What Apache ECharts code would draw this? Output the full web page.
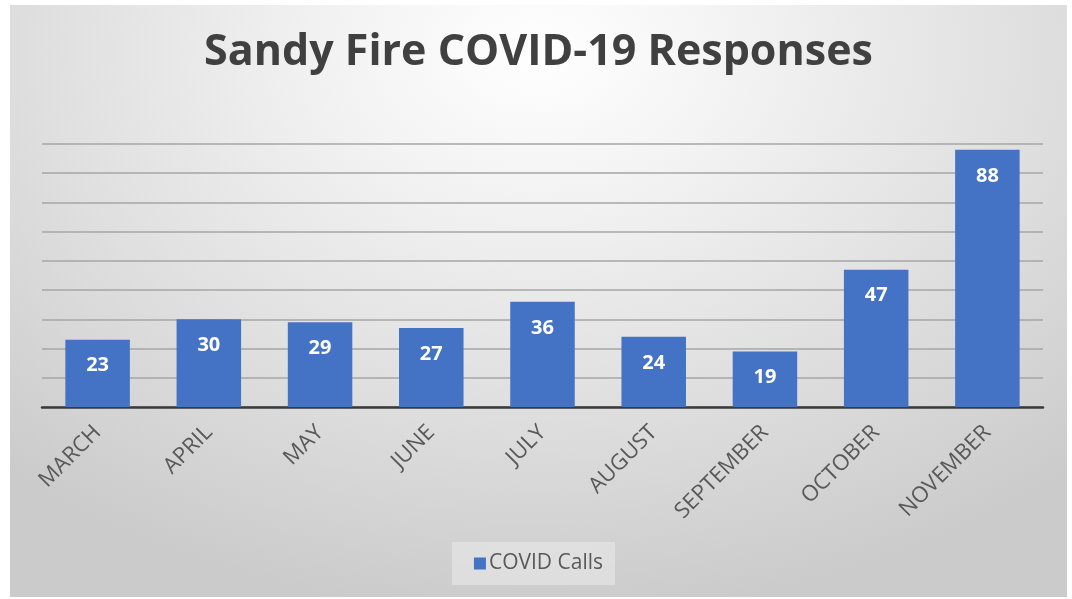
<!DOCTYPE html>
<html>
<head>
<meta charset="utf-8">
<script src="https://cdn.jsdelivr.net/npm/echarts@6/dist/echarts.min.js"></script>
<style>
  html, body { margin: 0; padding: 0; background: #ffffff; width: 1072px; height: 599px; overflow: hidden; }
  #chart {
    position: absolute; left: 10px; top: 5px; width: 1057px; height: 592px;
    background: radial-gradient(ellipse 75% 95% at 50% 8%, #ffffff 0%, #f3f3f3 25%, #dedede 65%, #cbcbcb 100%);
  }
</style>
</head>
<body>
<div id="chart"></div>
<script>
const titleText = 'Sandy Fire COVID-19 Responses';
const categories = ['MARCH', 'APRIL', 'MAY', 'JUNE', 'JULY', 'AUGUST', 'SEPTEMBER', 'OCTOBER', 'NOVEMBER'];
const seriesName = 'COVID Calls';
const covidCalls = [23, 30, 29, 27, 36, 24, 19, 47, 88];

const chart = echarts.init(document.getElementById('chart'), null, { renderer: 'canvas' });
chart.setOption({
  backgroundColor: 'transparent',
  animation: false,
  title: {
    text: titleText,
    left: 'center',
    top: 21,
    textStyle: { fontFamily: 'Open Sans', fontWeight: 700, fontSize: 43, color: '#404040' }
  },
  legend: {
    data: [seriesName],
    left: 'center',
    top: 537,
    icon: 'rect',
    itemWidth: 12,
    itemHeight: 12,
    itemGap: 6,
    padding: [11, 12, 11, 22],
    backgroundColor: 'rgba(238,238,238,0.5)',
    textStyle: { fontFamily: 'Open Sans', fontSize: 21, color: '#595959', padding: [0, 0, 0, -2] }
  },
  grid: { left: 32, right: 24, top: 139, bottom: 190, containLabel: false },
  xAxis: {
    type: 'category',
    data: categories,
    axisLine: { show: true, lineStyle: { color: '#3a3a3a', width: 2.5 } },
    axisTick: { show: false },
    axisLabel: {
      rotate: 45,
      margin: 22,
      fontFamily: 'Open Sans',
      fontSize: 22,
      color: '#595959'
    }
  },
  yAxis: {
    type: 'value',
    min: 0,
    max: 90,
    interval: 10,
    axisLine: { show: false },
    axisTick: { show: false },
    axisLabel: { show: false },
    splitLine: { show: true, lineStyle: { color: '#a6a6a6', width: 1.5 } }
  },
  series: [{
    name: seriesName,
    type: 'bar',
    data: covidCalls,
    barWidth: '58%',
    itemStyle: { color: '#4472C4' },
    label: {
      show: true,
      position: 'insideTop',
      distance: 16,
      fontFamily: 'Open Sans',
      fontWeight: 700,
      fontSize: 20,
      color: '#ffffff'
    }
  }]
});
</script>
</body>
</html>
